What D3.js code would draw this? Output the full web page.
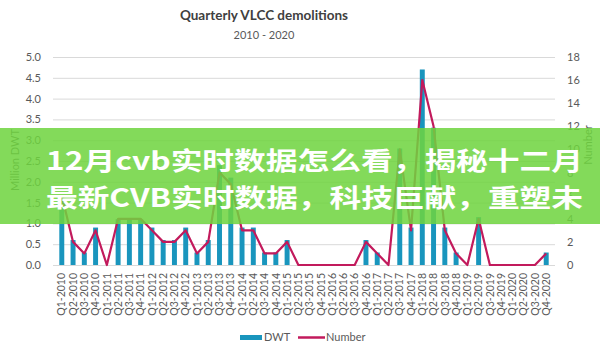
<!DOCTYPE html>
<html>
<head>
<meta charset="utf-8">
<script src="https://cdn.jsdelivr.net/npm/d3@7"></script>
<style>
  body { margin: 0; background: #fff; }
  svg { display: block; font-family: Lato, "Open Sans", sans-serif; }
</style>
</head>
<body>
<div class="chart-container"></div>
<script>
// données
const quarters = [
    'Q1-2010', 'Q2-2010', 'Q3-2010', 'Q4-2010', 'Q1-2011', 'Q2-2011', 'Q3-2011', 'Q4-2011',
    'Q1-2012', 'Q2-2012', 'Q3-2012', 'Q4-2012', 'Q1-2013', 'Q2-2013', 'Q3-2013', 'Q4-2013',
    'Q1-2014', 'Q2-2014', 'Q3-2014', 'Q4-2014', 'Q1-2015', 'Q2-2015', 'Q3-2015', 'Q4-2015',
    'Q1-2016', 'Q2-2016', 'Q3-2016', 'Q4-2016', 'Q1-2017', 'Q2-2017', 'Q3-2017', 'Q4-2017',
    'Q1-2018', 'Q2-2018', 'Q3-2018', 'Q4-2018', 'Q1-2019', 'Q2-2019', 'Q3-2019', 'Q4-2019',
    'Q1-2020', 'Q2-2020', 'Q3-2020', 'Q4-2020'
];
const dwt = [
    1.65, 0.6, 0.3, 0.9, 0, 1.1, 1.1, 1.1,
    0.9, 0.6, 0.6, 0.9, 0.3, 0.6, 2.4, 2.1,
    0.9, 0.9, 0.3, 0.3, 0.6, 0, 0, 0,
    0, 0, 0, 0.6, 0.3, 0, 2.8, 0.9,
    4.7, 3.3, 0.9, 0.3, 0, 1.15, 0, 0,
    0, 0, 0, 0.3
];
const number = [
    6, 2, 1, 3, 0, 4, 4, 4,
    3, 2, 2, 3, 1, 2, 8, 7,
    3, 3, 1, 1, 2, 0, 0, 0,
    0, 0, 0, 2, 1, 0, 10, 3,
    16, 12, 3, 1, 0, 4, 0, 0,
    0, 0, 0, 1
];
const leftTicks = [0, 0.5, 1, 1.5, 2, 2.5, 3, 3.5, 4, 4.5, 5];
const rightTicks = [0, 2, 4, 6, 8, 10, 12, 14, 16, 18];
const title = 'Quarterly VLCC demolitions';
const subtitle = '2010 - 2020';
const bannerLines = ['12月cvb实时数据怎么看，揭秘十二月', '最新CVB实时数据，科技巨献，重塑未'];

const width = 600, height = 355;
const plot = { left: 53, right: 555, top: 57, bottom: 265 };

const svg = d3.select('.chart-container')
    .append('svg')
    .attr('width', width)
    .attr('height', height);

// échelles
const x = d3.scaleBand().domain(quarters).range([plot.left, plot.right]).padding(0.56);
const yLeft = d3.scaleLinear().domain([0, 5]).range([plot.bottom, plot.top]);
const yRight = d3.scaleLinear().domain([0, 18]).range([plot.bottom, plot.top]);

// titre
svg.append('text')
    .attr('x', 264).attr('y', 20)
    .attr('text-anchor', 'middle')
    .attr('font-size', 13.5).attr('font-weight', 'bold')
    .attr('fill', '#404040')
    .text(title);
svg.append('text')
    .attr('x', 264).attr('y', 39)
    .attr('text-anchor', 'middle')
    .attr('font-size', 11)
    .attr('fill', '#595959')
    .text(subtitle);

// grille + axe gauche
const gridG = svg.append('g')
    .attr('transform', `translate(${plot.left},0)`)
    .call(d3.axisLeft(yLeft).tickValues(leftTicks).tickSize(-(plot.right - plot.left)).tickFormat(''));
gridG.select('.domain').remove();
gridG.selectAll('line').attr('stroke', '#d9d9d9');

const leftAxis = svg.append('g')
    .attr('transform', `translate(44,0)`)
    .call(d3.axisLeft(yLeft).tickValues(leftTicks).tickSize(0).tickFormat(d3.format('.1f')));
leftAxis.select('.domain').remove();
leftAxis.selectAll('text').attr('font-size', 11).attr('fill', '#595959').attr('font-family', 'Lato');

const rightAxis = svg.append('g')
    .attr('transform', `translate(564,0)`)
    .call(d3.axisRight(yRight).tickValues(rightTicks).tickSize(0));
rightAxis.select('.domain').remove();
rightAxis.selectAll('text').attr('font-size', 11).attr('fill', '#595959').attr('font-family', 'Lato');

// titres des axes Y
svg.append('text')
    .attr('transform', 'translate(19,160) rotate(-90)')
    .attr('text-anchor', 'middle')
    .attr('font-size', 11).attr('fill', '#595959')
    .text('Million DWT');
svg.append('text')
    .attr('transform', 'translate(592,145) rotate(-90)')
    .attr('text-anchor', 'middle')
    .attr('font-size', 11).attr('fill', '#595959')
    .text('Number');

// axe X
const xAxis = svg.append('g')
    .attr('transform', `translate(0,${plot.bottom})`)
    .call(d3.axisBottom(x).tickSize(0));
xAxis.select('.domain').remove();
xAxis.selectAll('text')
    .attr('font-size', 10.5).attr('fill', '#595959').attr('font-family', 'Lato')
    .attr('text-anchor', 'end')
    .attr('transform', 'translate(0,8) rotate(-90)')
    .attr('x', 0).attr('y', 0).attr('dy', '0.35em');

// barres
svg.append('g').selectAll('rect')
    .data(quarters)
    .enter()
    .append('rect')
    .attr('x', d => x(d))
    .attr('y', (d, i) => yLeft(dwt[i]))
    .attr('width', x.bandwidth())
    .attr('height', (d, i) => yLeft(0) - yLeft(dwt[i]))
    .attr('fill', '#1995bd');

// ligne
const line = d3.line()
    .x((d, i) => x(quarters[i]) + x.bandwidth() / 2)
    .y(d => yRight(d));
svg.append('path')
    .datum(number)
    .attr('d', line)
    .attr('fill', 'none')
    .attr('stroke', '#c21a5c')
    .attr('stroke-width', 2.2)
    .attr('stroke-linejoin', 'round');

// légende
const legend = svg.append('g');
legend.append('rect').attr('x', 240).attr('y', 335).attr('width', 22).attr('height', 5).attr('fill', '#1995bd');
legend.append('text').attr('x', 264).attr('y', 341).attr('font-size', 11).attr('fill', '#595959').text('DWT');
legend.append('line').attr('x1', 298).attr('x2', 325).attr('y1', 337.5).attr('y2', 337.5)
    .attr('stroke', '#c21a5c').attr('stroke-width', 2.5);
legend.append('text').attr('x', 326).attr('y', 341).attr('font-size', 11).attr('fill', '#595959').text('Number');

// bandeau vert par-dessus
svg.append('rect')
    .attr('x', 0).attr('y', 128).attr('width', width).attr('height', 96)
    .attr('fill', '#6fd43f').attr('opacity', 0.86);

svg.selectAll('.banner-text')
    .data(bannerLines)
    .enter()
    .append('text')
    .attr('class', 'banner-text')
    .attr('x', 46)
    .attr('y', (d, i) => 170 + i * 37)
    .attr('font-family', '"Noto Sans CJK SC", sans-serif')
    .attr('font-weight', 'bold')
    .attr('font-size', 25.5)
    .attr('fill', '#fff')
    .attr('textLength', 537)
    .attr('lengthAdjust', 'spacingAndGlyphs')
    .text(d => d);
</script>
</body>
</html>
